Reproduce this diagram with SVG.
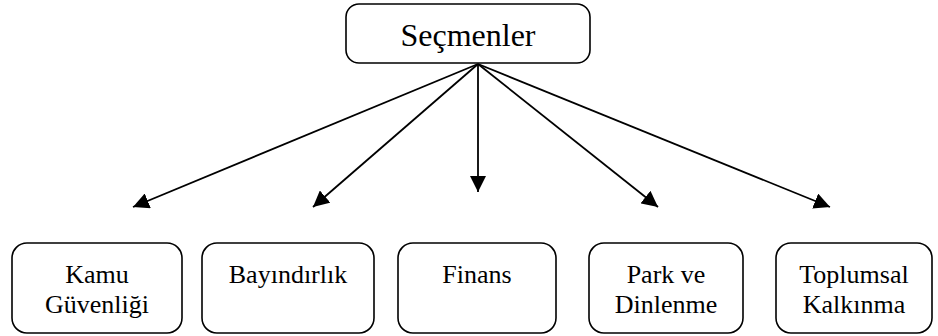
<svg xmlns="http://www.w3.org/2000/svg" width="938" height="336" viewBox="0 0 938 336">
  <style>
    .box { fill: #ffffff; stroke: #000000; stroke-width: 1.6; }
    .lbl { font-family: "Liberation Serif", "Times New Roman", serif; fill: #000000; text-anchor: middle; }
    .lbl-l { font-size: 32px; }
    .lbl-s { font-size: 26px; }
    .edge { stroke: #000000; stroke-width: 1.8; fill: none; marker-end: url(#head); }
  </style>
  <defs>
    <marker id="head" markerUnits="userSpaceOnUse" markerWidth="17" markerHeight="16" refX="16" refY="8" orient="auto">
      <path d="M0,0 L16,8 L0,16 z" fill="#000000"/>
    </marker>
  </defs>
  <rect width="938" height="336" fill="#ffffff"/>

  <g id="connectors">
    <line class="edge" x1="478" y1="64" x2="133" y2="207"/>
    <line class="edge" x1="478" y1="64" x2="313" y2="207"/>
    <line class="edge" x1="478" y1="64" x2="478" y2="192"/>
    <line class="edge" x1="478" y1="64" x2="658" y2="207"/>
    <line class="edge" x1="478" y1="64" x2="830" y2="207"/>
  </g>

  <g id="secmenler">
    <rect class="box" x="346" y="4" width="244" height="59" rx="13"/>
    <text class="lbl lbl-l" x="468" y="46">Seçmenler</text>
  </g>

  <g id="kamu-guvenligi">
    <rect class="box" x="12" y="243" width="170" height="90" rx="15"/>
    <text class="lbl lbl-s" x="97" y="283">Kamu</text>
    <text class="lbl lbl-s" x="97" y="313">Güvenliği</text>
  </g>

  <g id="bayindirlik">
    <rect class="box" x="202" y="243" width="172" height="90" rx="15"/>
    <text class="lbl lbl-s" x="288" y="283">Bayındırlık</text>
  </g>

  <g id="finans">
    <rect class="box" x="398" y="243" width="158" height="90" rx="15"/>
    <text class="lbl lbl-s" x="477" y="283">Finans</text>
  </g>

  <g id="park-ve-dinlenme">
    <rect class="box" x="589" y="243" width="154" height="90" rx="15"/>
    <text class="lbl lbl-s" x="666" y="283">Park ve</text>
    <text class="lbl lbl-s" x="666" y="313">Dinlenme</text>
  </g>

  <g id="toplumsal-kalkinma">
    <rect class="box" x="776" y="243" width="156" height="90" rx="15"/>
    <text class="lbl lbl-s" x="854" y="283">Toplumsal</text>
    <text class="lbl lbl-s" x="854" y="313">Kalkınma</text>
  </g>
</svg>
